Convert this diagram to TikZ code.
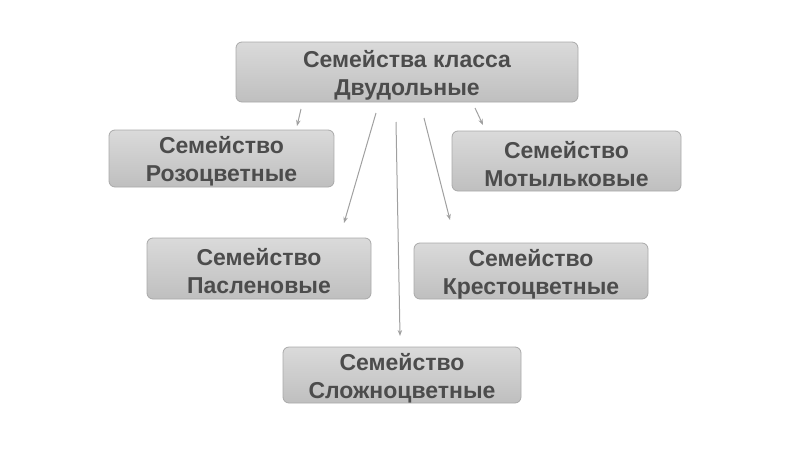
\documentclass[tikz,border=0pt]{standalone}
\usepackage{fontspec}
\setmainfont{Liberation Sans}
\usetikzlibrary{arrows.meta}
\definecolor{txt}{HTML}{4C4C4C}
\definecolor{bord}{HTML}{A9A9A9}
\definecolor{topc}{HTML}{DADADA}
\definecolor{botc}{HTML}{BFBFBF}
\definecolor{arr}{HTML}{A0A0A0}
\begin{document}
\begin{tikzpicture}[x=1pt,y=-1pt,
  fam/.style={draw=bord, line width=0.8pt, rounded corners=6pt, top color=topc, bottom color=botc, inner sep=0pt},
  famtext/.style={font=\fontsize{23}{28}\selectfont\bfseries, text=txt, align=center, inner sep=0pt, yshift=-3pt},
  conn/.style={draw=arr, line width=1pt, -{Stealth[length=6pt,width=4.5pt]}}]
\useasboundingbox (0,0) rectangle (800,450);
\node[fam, minimum width=342pt, minimum height=60pt, label={[famtext]center:{Семейства класса\\Двудольные}}] (top) at (407,72) {};
\node[fam, minimum width=225pt, minimum height=57pt, label={[famtext]center:{Семейство\\Розоцветные}}] (rozo) at (221.5,158.5) {};
\node[fam, minimum width=229pt, minimum height=60pt, label={[famtext]center:{Семейство\\Мотыльковые}}] (motyl) at (566.5,161) {};
\node[fam, minimum width=224pt, minimum height=61pt, label={[famtext]center:{Семейство\\Пасленовые}}] (paslen) at (259,268.5) {};
\node[fam, minimum width=234pt, minimum height=56pt, label={[famtext]center:{Семейство\\Крестоцветные}}] (kresto) at (531,271) {};
\node[fam, minimum width=238pt, minimum height=56pt, label={[famtext]center:{Семейство\\Сложноцветные}}] (slozh) at (402,375) {};
\coordinate (s1) at (301,109); \coordinate (e1) at (297,126);
\coordinate (s2) at (376,113); \coordinate (e2) at (344,223);
\coordinate (s3) at (396,122); \coordinate (e3) at (400,336);
\coordinate (s4) at (424,118); \coordinate (e4) at (450,220);
\coordinate (s5) at (475,108); \coordinate (e5) at (483,125);
\foreach \i in {1,...,5} \draw[conn] (s\i) -- (e\i);
\end{tikzpicture}
\end{document}
